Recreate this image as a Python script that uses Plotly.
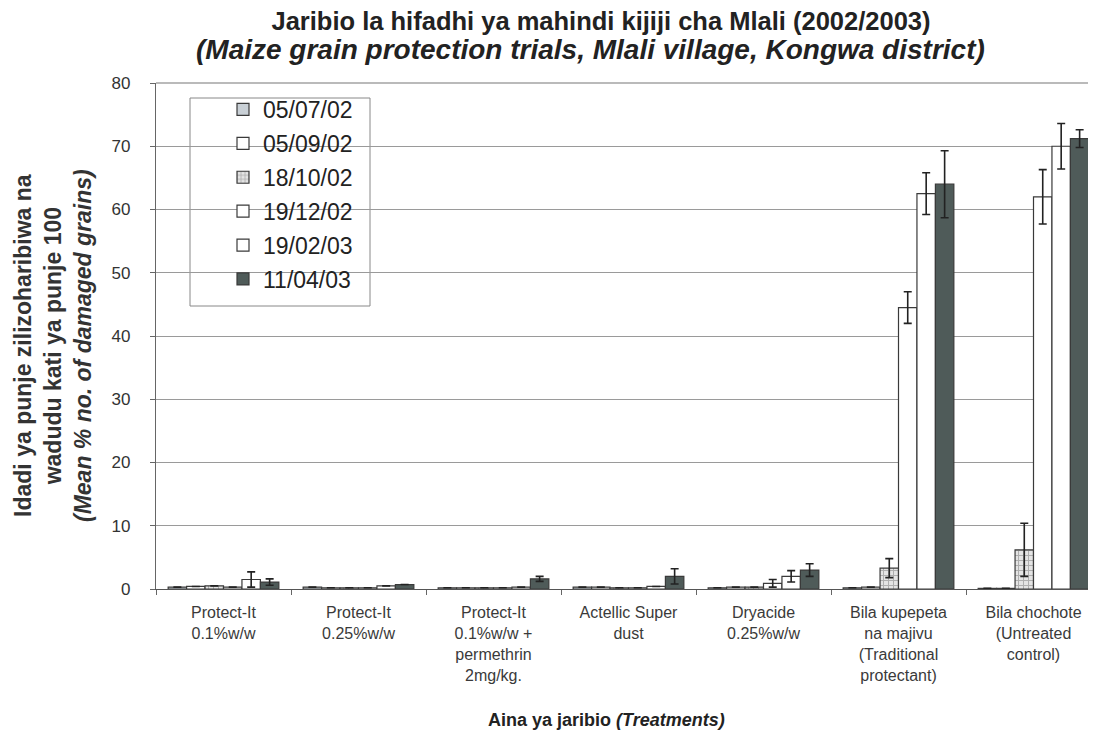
import plotly.graph_objects as go

categories = [
    "Protect-It<br>0.1%w/w",
    "Protect-It<br>0.25%w/w",
    "Protect-It<br>0.1%w/w +<br>permethrin<br>2mg/kg.",
    "Actellic Super<br>dust",
    "Dryacide<br>0.25%w/w",
    "Bila kupepeta<br>na majivu<br>(Traditional<br>protectant)",
    "Bila chochote<br>(Untreated<br>control)",
]
series_names = ["05/07/02", "05/09/02", "18/10/02", "19/12/02", "19/02/03", "11/04/03"]

v_050702 = [0.3, 0.3, 0.2, 0.3, 0.2, 0.2, 0.1]
v_050902 = [0.4, 0.2, 0.2, 0.3, 0.3, 0.3, 0.1]
v_181002 = [0.5, 0.2, 0.2, 0.2, 0.3, 3.3, 6.2]
v_191202 = [0.3, 0.2, 0.2, 0.2, 0.9, 44.5, 62.0]
v_190203 = [1.5, 0.5, 0.3, 0.4, 2.0, 62.5, 70.0]
v_110403 = [1.1, 0.7, 1.6, 2.0, 3.0, 64.0, 71.2]

e_050702 = [None] * 7
e_050902 = [None] * 7
e_181002 = [None, None, None, None, None, 1.5, 4.2]
e_191202 = [None, None, None, None, 0.6, 2.5, 4.3]
e_190203 = [1.2, None, None, None, 0.9, 3.3, 3.6]
e_110403 = [0.5, None, 0.4, 1.2, 1.0, 5.3, 1.4]

values = [v_050702, v_050902, v_181002, v_191202, v_190203, v_110403]
errors = [e_050702, e_050902, e_181002, e_191202, e_190203, e_110403]
fills = ["#c9d0d6", "#ffffff", "#e4e4e4", "#ffffff", "#ffffff", "#4f5b59"]
patterns = ["", "", "+", "", "", ""]

fig = go.Figure()
for i, name in enumerate(series_names):
    fig.add_trace(go.Bar(
        name=name,
        x=categories,
        y=values[i],
        legendgroup=name,
        marker=dict(
            color=fills[i],
            line=dict(color="#3a3a3a", width=1.2),
            pattern=dict(shape=patterns[i], fgcolor="#777777", size=5, solidity=0.35),
        ),
        error_y=dict(type="data", array=errors[i], visible=True,
                     color="#222222", thickness=1.6, width=4),
    ))

PL, PR, PT, PB = 148, 1093, 75, 581
PW, PH = PR - PL, PB - PT

def px_x(x):
    return (x - PL) / PW

def px_y(y):
    return (PB - y) / PH

fig.update_layout(
    width=1096, height=740,
    margin=dict(l=PL, r=1096 - PR, t=PT, b=740 - PB),
    paper_bgcolor="white", plot_bgcolor="white",
    font=dict(family="Liberation Sans, Arial, sans-serif", color="#222222"),
    barmode="group", bargap=0.18, bargroupgap=0.0,
    showlegend=True,
    legend=dict(
        x=px_x(215), y=px_y(80), xanchor="left", yanchor="top",
        bgcolor="rgba(0,0,0,0)", borderwidth=0,
        font=dict(size=23, color="#222222"),
        traceorder="grouped", tracegroupgap=1,
        itemwidth=30,
    ),
    title=dict(
        text="<b>Jaribio la hifadhi ya mahindi kijiji cha Mlali (2002/2003)</b>",
        x=593 / 1096, xanchor="center", y=1 - 13 / 740, yanchor="middle",
        yref="container", xref="container",
        font=dict(size=25.5, color="#222222"),
    ),
    annotations=[
        dict(text="<b><i>(Maize grain protection trials, Mlali village, Kongwa district)</i></b>",
             xref="paper", yref="paper", x=px_x(582), y=px_y(42), xanchor="center", yanchor="middle",
             showarrow=False, font=dict(size=28, color="#222222")),
        dict(text="<b>Idadi ya punje zilizoharibiwa na<br>wadudu kati ya punje 100<br><i>(Mean % no. of damaged grains)</i></b>",
             xref="paper", yref="paper", x=px_x(45), y=px_y(338), xanchor="center", yanchor="middle",
             textangle=-90, showarrow=False, font=dict(size=23, color="#333333")),
        dict(text="<b>Aina ya jaribio <i>(Treatments)</i></b>",
             xref="paper", yref="paper", x=px_x(598), y=px_y(712), xanchor="center", yanchor="middle",
             showarrow=False, font=dict(size=18, color="#222222")),
    ],
    shapes=[
        dict(type="rect", xref="paper", yref="paper",
             x0=px_x(182), x1=px_x(362), y0=px_y(298), y1=px_y(90),
             line=dict(color="#888888", width=1), fillcolor="rgba(0,0,0,0)", layer="below"),
        dict(type="line", xref="paper", yref="paper", x0=0, x1=1, y0=1, y1=1,
             line=dict(color="#777777", width=1.2)),
    ],
)

fig.update_yaxes(
    range=[0, 80], dtick=10, automargin=False,
    showgrid=True, gridcolor="#9a9a9a", gridwidth=1,
    showline=True, linecolor="#666666", linewidth=1.2,
    ticks="outside", ticklen=5, tickcolor="#666666",
    ticklabelstandoff=16,
    tickfont=dict(size=17, color="#333333"),
    zeroline=False,
)
fig.update_xaxes(
    automargin=False,
    showline=True, linecolor="#555555", linewidth=1.2,
    ticks="outside", ticklen=5, tickcolor="#666666", tickson="boundaries",
    ticklabelstandoff=9,
    tickfont=dict(size=16, color="#3a3a3a"),
)

fig.write_html("out.html")
